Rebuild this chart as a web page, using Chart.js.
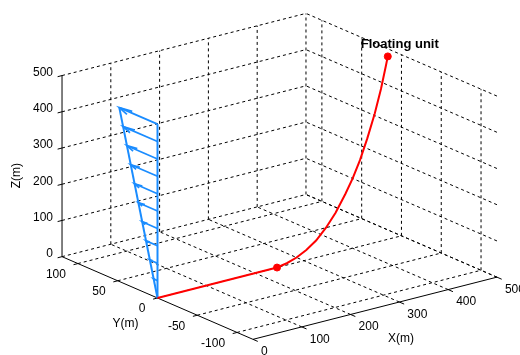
<!DOCTYPE html>
<html>
<head>
<meta charset="utf-8">
<script src="https://cdn.jsdelivr.net/npm/chart.js@4.4.0/dist/chart.umd.min.js"></script>
<style>
  html, body { margin: 0; padding: 0; background: #fff; }
  #wrap { width: 520px; height: 355px; }
</style>
</head>
<body>
<div id="wrap"><canvas id="chart" width="520" height="355"></canvas></div>
<script>
// Axis limits and ticks (metres)
const xLim = [0, 500];
const yLim = [-120, 120];
const zLim = [0, 500];
const xTicks = [0, 100, 200, 300, 400, 500];
const yTicks = [-100, -50, 0, 50, 100];
const zTicks = [0, 100, 200, 300, 400, 500];

// Mooring line: anchor -> touchdown -> floating unit
const lineX = [0, 245, 265, 285, 305, 325, 345, 365, 385, 400, 415, 430, 445, 458, 468, 472];
const lineY = [0, 0, 0, 0, 0, 0, 0, 0, 0, 0, 0, 0, 0, 0, 0, 0];
const lineZ = [0, 0, 5, 14, 28, 47, 75, 110, 155, 193, 238, 293, 355, 420, 480, 505];

// Marked points (touchdown, floating unit)
const markX = [245, 472];
const markY = [0, 0];
const markZ = [0, 505];
const markText = 'Floating unit';

// Current profile (arrows along +Y at x=0, y=0)
const currentZ = [48, 96, 144, 192, 240, 288, 336, 384, 432, 480];
const currentY = [4.8, 9.6, 14.4, 19.2, 24, 28.8, 33.6, 38.4, 43.2, 48];

// View (like MATLAB view(az, el)) and plot box size in pixels
const view = { az: -37.5, el: 19.4 };
const boxPx = { x: 307.5, y: 313.7, z: 192 };

function project(X, Y, Z) {
    const a = view.az * Math.PI / 180;
    const e = view.el * Math.PI / 180;
    const px = X / (xLim[1] - xLim[0]) * boxPx.x;
    const py = Y / (yLim[1] - yLim[0]) * boxPx.y;
    const pz = Z / (zLim[1] - zLim[0]) * boxPx.z;
    return {
        x: px * Math.cos(a) + py * Math.sin(a),
        y: -Math.sin(e) * Math.sin(a) * px + Math.sin(e) * Math.cos(a) * py + Math.cos(e) * pz
    };
}

function seg(pts, color, width, dash, order) {
    return {
        data: pts.map(p => project(p[0], p[1], p[2])),
        showLine: true,
        borderColor: color,
        borderWidth: width,
        borderDash: dash || [],
        pointRadius: 0,
        order: order
    };
}

const datasets = [];

// Grid lines (dotted), floor and two back walls
const gridColor = '#000';
const gridDash = [3, 3];
xTicks.filter(v => v !== xLim[0]).forEach(v => {
    datasets.push(seg([[v, yLim[0], 0], [v, yLim[1], 0]], gridColor, 1, gridDash, 6));
    datasets.push(seg([[v, yLim[1], zLim[0]], [v, yLim[1], zLim[1]]], gridColor, 1, gridDash, 6));
});
yTicks.forEach(v => {
    datasets.push(seg([[xLim[0], v, 0], [xLim[1], v, 0]], gridColor, 1, gridDash, 6));
    datasets.push(seg([[xLim[1], v, zLim[0]], [xLim[1], v, zLim[1]]], gridColor, 1, gridDash, 6));
});
zTicks.forEach(v => {
    datasets.push(seg([[xLim[0], yLim[1], v], [xLim[1], yLim[1], v]], gridColor, 1, gridDash, 6));
    datasets.push(seg([[xLim[1], yLim[0], v], [xLim[1], yLim[1], v]], gridColor, 1, gridDash, 6));
});

// Axis lines
datasets.push(seg([[0, yLim[1], zLim[0]], [0, yLim[1], zLim[1]]], '#000', 1, [], 5));
datasets.push(seg([[0, yLim[1], 0], [0, yLim[0], 0]], '#000', 1, [], 5));
datasets.push(seg([[xLim[0], yLim[0], 0], [xLim[1], yLim[0], 0]], '#000', 1, [], 5));

// Tick marks
zTicks.forEach(v => datasets.push(seg([[0, yLim[1], v], [-9, yLim[1], v]], '#000', 1, [], 5)));
yTicks.forEach(v => datasets.push(seg([[0, v, 0], [-9, v, 0]], '#000', 1, [], 5)));
xTicks.forEach(v => datasets.push(seg([[v, yLim[0], 0], [v, yLim[0] - 6, 0]], '#000', 1, [], 5)));

// Current profile
const blue = '#1a8cff';
const topZ = currentZ[currentZ.length - 1];
const topY = currentY[currentY.length - 1];
datasets.push(seg([[0, 0, 0], [0, 0, topZ]], blue, 2, [], 3));
datasets.push(seg([[0, 0, 0], [0, topY, topZ]], blue, 2, [], 3));
currentZ.forEach((z, i) => {
    const L = currentY[i];
    datasets.push(seg([[0, 0, z], [0, L, z]], blue, 1.7, [], 3));
    datasets.push(seg([[0.16 * L, 0.76 * L, z - 0.04 * L], [0, L, z], [0, 0.8 * L, z - 0.2 * L]], blue, 1.7, [], 3));
});

// Mooring line
datasets.push({
    data: lineX.map((x, i) => project(x, lineY[i], lineZ[i])),
    showLine: true,
    borderColor: '#ff0000',
    borderWidth: 2,
    pointRadius: 0,
    order: 2
});
datasets.push({
    data: markX.map((x, i) => project(x, markY[i], markZ[i])),
    showLine: false,
    pointRadius: 3.5,
    pointBackgroundColor: '#ff0000',
    pointBorderColor: '#ff0000',
    order: 1
});

const textPlugin = {
    id: 'axisText',
    afterDatasetsDraw(chart) {
        const { ctx, scales: { x, y } } = chart;
        const at = (X, Y, Z) => {
            const p = project(X, Y, Z);
            return [x.getPixelForValue(p.x), y.getPixelForValue(p.y)];
        };
        ctx.save();
        ctx.fillStyle = '#000';
        ctx.font = '12px "Liberation Sans", Arial, sans-serif';
        ctx.textBaseline = 'middle';

        ctx.textAlign = 'right';
        zTicks.forEach(v => { const [px, py] = at(0, yLim[1], v); ctx.fillText(String(v), px - 9, py - 3); });
        yTicks.forEach(v => { const [px, py] = at(0, v, 0); ctx.fillText(String(v), px - 12, py + 11); });
        ctx.textAlign = 'left';
        xTicks.forEach(v => { const [px, py] = at(v, yLim[0], 0); ctx.fillText(String(v), px + 8, py + 12.5); });

        // axis titles
        ctx.textAlign = 'center';
        let [px, py] = at(250, yLim[0], 0);
        ctx.fillText('X(m)', px + 26, py + 30.5);
        [px, py] = at(0, 0, 0);
        ctx.fillText('Y(m)', px - 32, py + 26);
        [px, py] = at(0, yLim[1], 250);
        ctx.save();
        ctx.translate(px - 45, py + 9.5);
        ctx.rotate(-Math.PI / 2);
        ctx.fillText('Z(m)', 0, 0);
        ctx.restore();

        // floating unit label
        [px, py] = at(markX[1], markY[1], markZ[1]);
        ctx.font = 'bold 13px "Liberation Sans", Arial, sans-serif';
        ctx.fillText(markText, px + 12, py - 12);
        ctx.restore();
    }
};

new Chart(document.getElementById('chart'), {
    type: 'scatter',
    data: { datasets: datasets },
    options: {
        responsive: false,
        animation: false,
        layout: { padding: 0, autoPadding: false },
        plugins: { legend: { display: false }, tooltip: { enabled: false } },
        scales: {
            x: { type: 'linear', display: false, min: -157.5, max: 362.5 },
            y: { type: 'linear', display: false, min: -57, max: 298 }
        }
    },
    plugins: [textPlugin]
});
</script>
</body>
</html>
